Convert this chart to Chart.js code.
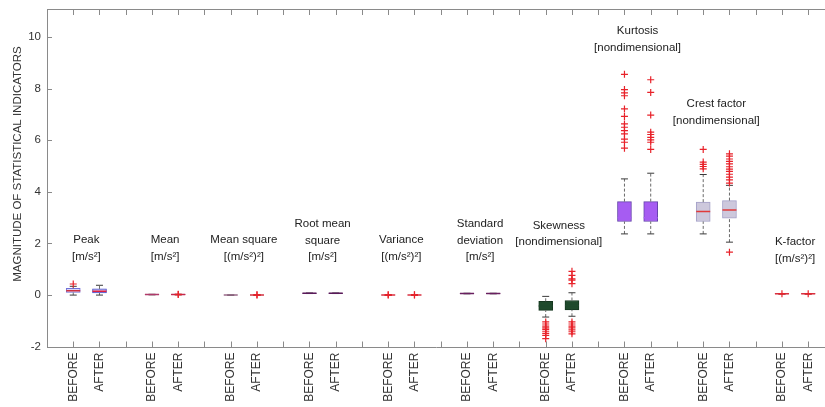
<!DOCTYPE html>
<html lang="en">

<head>
  <meta charset="UTF-8">
  <title>Statistical indicators</title>
  <style>
    html, body { margin: 0; padding: 0; background: #fff; overflow: hidden; }
    #wrap { width: 825px; height: 407px; }
  </style>
</head>

<body>
  <div id="wrap"><canvas id="myChart" width="825" height="407"></canvas></div>

  <script src="https://cdn.jsdelivr.net/npm/chart.js"></script>
  <script>
    // indicator groups, each one has a BEFORE and an AFTER box
    const groupNames = [
      ['Peak', '[m/s²]'],
      ['Mean', '[m/s²]'],
      ['Mean square', '[(m/s²)²]'],
      ['Root mean', 'square', '[m/s²]'],
      ['Variance', '[(m/s²)²]'],
      ['Standard', 'deviation', '[m/s²]'],
      ['Skewness', '[nondimensional]'],
      ['Kurtosis', '[nondimensional]'],
      ['Crest factor', '[nondimensional]'],
      ['K-factor', '[(m/s²)²]']
    ];
    const groupLabelY = [2.15, 2.15, 2.15, 2.77, 2.15, 2.77, 2.7, 10.22, 7.39, 2.05];
    const phases = ['BEFORE', 'AFTER'];

    // box statistics, order: Peak B, Peak A, Mean B, Mean A, ...
    const whiskerLow = [0.0, 0.0, 0.01, 0.01, 0.0, 0.0, 0.06, 0.06, 0.0, 0.0, 0.05, 0.05, -0.85, -0.82, 2.37, 2.37, 2.37, 2.05, 0.04, 0.04];
    const q1 = [0.1, 0.08, 0.015, 0.015, 0.0, 0.0, 0.065, 0.065, 0.0, 0.0, 0.055, 0.055, -0.59, -0.57, 2.85, 2.85, 2.85, 2.98, 0.045, 0.045];
    const median = [0.17, 0.15, 0.02, 0.02, 0.0, 0.0, 0.07, 0.07, 0.0, 0.0, 0.06, 0.06, -0.42, -0.4, 3.0, 3.0, 3.24, 3.3, 0.05, 0.05];
    const q3 = [0.26, 0.24, 0.025, 0.025, 0.0, 0.0, 0.075, 0.075, 0.0, 0.0, 0.065, 0.065, -0.24, -0.21, 3.62, 3.62, 3.6, 3.66, 0.055, 0.055];
    const whiskerHigh = [0.34, 0.38, 0.03, 0.03, 0.0, 0.0, 0.08, 0.08, 0.0, 0.0, 0.07, 0.07, -0.05, 0.09, 4.5, 4.72, 4.67, 4.25, 0.06, 0.06];
    const outliers = [
      [0.43], [],
      [], [0.03, 0.02],
      [], [0.0, 0.01],
      [], [],
      [0.0, 0.01], [0.0, 0.01],
      [], [],
      [-1.04, -1.12, -1.2, -1.27, -1.33, -1.4, -1.48, -1.56, -1.69],
      [0.92, 0.76, 0.63, 0.58, 0.44, -1.04, -1.12, -1.2, -1.27, -1.35, -1.42, -1.5],
      [8.55, 7.96, 7.83, 7.72, 7.21, 6.92, 6.63, 6.5, 6.37, 6.24, 6.04, 5.92, 5.69],
      [8.34, 7.85, 6.97, 6.31, 6.22, 6.11, 6.01, 5.92, 5.64],
      [5.64, 5.15, 5.06, 4.98, 4.89],
      [5.47, 5.38, 5.27, 5.18, 5.08, 4.97, 4.88, 4.79, 4.68, 4.57, 4.46, 4.34, 1.66],
      [0.05], [0.05]
    ];

    const boxFill = ['#dcd6f4', '#cacaf0', '#b03a6a', '#c02a50', '#9a6a8a', '#d03040', '#5a1a5a', '#5a1a5a', '#d83040', '#d83040',
      '#6a2060', '#6a2060', '#1f4a2c', '#1f4a2c', '#a65cf2', '#a65cf2', '#cdc8dc', '#cdc8dc', '#d83040', '#d83040'];
    const boxLine = ['#7070d8', '#4a4ac8', '#b03a6a', '#c02a50', '#9a6a8a', '#d03040', '#5a1a5a', '#5a1a5a', '#d83040', '#d83040',
      '#6a2060', '#6a2060', '#15361f', '#15361f', '#6444aa', '#6444aa', '#a4a0c8', '#a4a0c8', '#d83040', '#d83040'];
    const medianColor = ['#d03040', '#e02040', '#b03a6a', '#c02a50', '#9a6a8a', '#d03040', '#5a1a5a', '#5a1a5a', '#d83040', '#d83040',
      '#6a2060', '#6a2060', '#1f4a2c', '#1f4a2c', '#a65cf2', '#a65cf2', '#e03a3a', '#e03a3a', '#d83040', '#d83040'];

    const FONT = 'Liberation Sans, Arial, sans-serif';

    // x position of every box: groups are 3 slots wide, the third slot stays empty
    const boxX = [];
    groupNames.forEach(function (name, g) {
      boxX.push(3 * g + 1, 3 * g + 2);
    });
    const xTicks = [];
    for (let k = 1; k <= 29; k++) xTicks.push(k);

    const boxData = boxX.map(function (x, i) { return { x: x, y: [q1[i], q3[i]] }; });
    const whiskerData = [];
    const capData = [];
    boxX.forEach(function (x, i) {
      whiskerData.push({ x: x, y: whiskerLow[i] }, { x: x, y: q1[i] }, { x: x, y: null });
      whiskerData.push({ x: x, y: q3[i] }, { x: x, y: whiskerHigh[i] }, { x: x, y: null });
      capData.push({ x: x, y: whiskerLow[i] }, { x: x, y: whiskerHigh[i] });
    });
    const medianData = boxX.map(function (x, i) { return { x: x, y: median[i] }; });
    const outlierData = [];
    boxX.forEach(function (x, i) {
      outliers[i].forEach(function (v) { outlierData.push({ x: x, y: v }); });
    });

    // frame, inward ticks, group captions and the y title
    const decorations = {
      id: 'decorations',
      afterDatasetsDraw(chart) {
        const ctx = chart.ctx;
        const area = chart.chartArea;
        const xs = chart.scales.x;
        const ys = chart.scales.y;
        ctx.save();
        ctx.strokeStyle = '#8a8a8a';
        ctx.lineWidth = 1;
        ctx.beginPath();
        ctx.moveTo(area.left, area.top + 0.5);
        ctx.lineTo(area.right, area.top + 0.5);
        xTicks.forEach(function (k) {
          const px = Math.round(xs.getPixelForValue(k)) + 0.5;
          ctx.moveTo(px, area.top);
          ctx.lineTo(px, area.top + 6);
          ctx.moveTo(px, area.bottom);
          ctx.lineTo(px, area.bottom - 6);
        });
        [-2, 0, 2, 4, 6, 8, 10].forEach(function (v) {
          const py = Math.round(ys.getPixelForValue(v)) + 0.5;
          ctx.moveTo(area.left, py);
          ctx.lineTo(area.left + 5, py);
        });
        ctx.stroke();

        ctx.fillStyle = '#222';
        ctx.font = '11.5px ' + FONT;
        ctx.textAlign = 'center';
        ctx.textBaseline = 'middle';
        groupNames.forEach(function (lines, g) {
          const cx = xs.getPixelForValue(3 * g + 1.5);
          const cy = ys.getPixelForValue(groupLabelY[g]);
          lines.forEach(function (line, j) {
            ctx.fillText(line, cx, cy + j * 16.8);
          });
        });

        ctx.font = '11.5px ' + FONT;
        ctx.fillStyle = '#333';
        ctx.translate(18, 164);
        ctx.rotate(-Math.PI / 2);
        ctx.fillText('MAGNITUDE OF STATISTICAL INDICATORS', 0, 0);
        ctx.restore();
      }
    };

    const ctx = document.getElementById('myChart');
    const chart = new Chart(ctx, {
      type: 'bar',
      data: {
        datasets: [
          {
            type: 'bar',
            data: boxData,
            backgroundColor: boxFill,
            borderColor: boxLine,
            borderWidth: 1,
            borderSkipped: false,
            barThickness: 14,
            order: 5
          },
          {
            type: 'line',
            data: whiskerData,
            borderColor: '#6a6a6a',
            borderWidth: 1,
            borderDash: [3, 2],
            pointRadius: 0,
            spanGaps: false,
            order: 4
          },
          {
            type: 'scatter',
            data: capData,
            pointStyle: 'line',
            pointRadius: 3.5,
            borderColor: '#3a3a3a',
            borderWidth: 1,
            order: 3
          },
          {
            type: 'scatter',
            data: medianData,
            pointStyle: 'line',
            pointRadius: 7,
            borderColor: medianColor,
            borderWidth: 1.5,
            order: 2
          },
          {
            type: 'scatter',
            data: outlierData,
            pointStyle: 'cross',
            pointRadius: 3.5,
            borderColor: '#e8222a',
            borderWidth: 1.2,
            order: 1
          }
        ]
      },
      options: {
        responsive: false,
        animation: false,
        layout: { autoPadding: false, padding: { top: 9, right: 0, left: 0, bottom: 0 } },
        plugins: {
          legend: { display: false },
          tooltip: { enabled: false }
        },
        scales: {
          x: {
            type: 'linear',
            offset: false,
            min: 0,
            max: 29.64,
            afterBuildTicks: function (scale) {
              scale.ticks = xTicks.map(function (v) { return { value: v }; });
            },
            afterFit: function (scale) {
              scale.height = 59.5;
              scale.paddingLeft = 0;
              scale.paddingRight = 0;
            },
            ticks: {
              autoSkip: false,
              minRotation: 90,
              maxRotation: 90,
              padding: 5,
              color: '#333',
              font: { family: FONT, size: 12 },
              callback: function (v) {
                const slot = v % 3;
                return slot === 0 ? '' : phases[slot - 1];
              }
            },
            grid: { display: false, drawTicks: false },
            border: { display: true, color: '#8a8a8a' }
          },
          y: {
            min: -2.03,
            max: 11.08,
            afterBuildTicks: function (scale) {
              scale.ticks = [-2, 0, 2, 4, 6, 8, 10].map(function (v) { return { value: v }; });
            },
            afterFit: function (scale) {
              scale.width = 47;
              scale.paddingTop = 0;
              scale.paddingBottom = 0;
            },
            ticks: {
              padding: 6,
              color: '#333',
              font: { family: FONT, size: 11.5 }
            },
            grid: { display: false, drawTicks: false },
            border: { display: true, color: '#8a8a8a' }
          }
        }
      },
      plugins: [decorations]
    });
  </script>
</body>

</html>
